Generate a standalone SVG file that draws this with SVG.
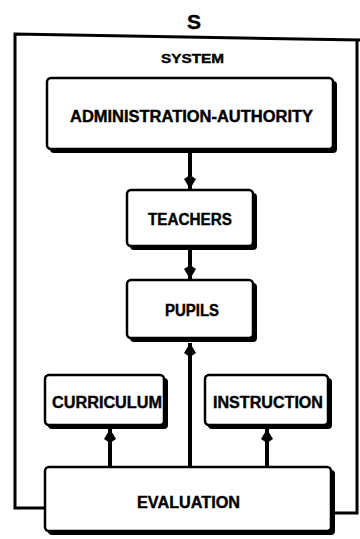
<svg xmlns="http://www.w3.org/2000/svg" width="360" height="539" viewBox="0 0 360 539">
<style>
.t{font-family:"Liberation Sans",Arial,sans-serif;font-weight:bold;font-size:16px;fill:#000;stroke:#000;stroke-width:0.4}
.box{fill:#fff;stroke:#000;stroke-width:2.5}
.sh{fill:#000}
.con{stroke:#000;stroke-width:4;fill:none}
</style>
<defs>
<marker id="ah" markerUnits="userSpaceOnUse" markerWidth="20" markerHeight="16" refX="0" refY="0" viewBox="-16 -8 20 16" orient="auto" overflow="visible">
<path d="M0,0 L-5,-3 L-10,-6 L-14,0 L-10,6 L-5,3 Z" fill="#000"/>
</marker>
</defs>
<rect width="360" height="539" fill="#fff"/>
<text class="t" x="194" y="29" style="font-size:21px" text-anchor="middle">S</text>
<g id="system">
<path d="M45,508 L15,508 L15,34 L360,40 M357,40 L357,513 L333,513" fill="none" stroke="#000" stroke-width="3"/>
<text class="t" x="161" y="63" style="font-size:13px" textLength="63" lengthAdjust="spacingAndGlyphs">SYSTEM</text>
</g>
<g id="connectors">
<line class="con" x1="190" y1="153" x2="190" y2="189" marker-end="url(#ah)"/>
<line class="con" x1="190" y1="250" x2="190" y2="279" marker-end="url(#ah)"/>
<line class="con" x1="190" y1="467" x2="190" y2="343" marker-end="url(#ah)"/>
<line class="con" x1="110" y1="467" x2="110" y2="429" marker-end="url(#ah)"/>
<line class="con" x1="267" y1="467" x2="267" y2="429" marker-end="url(#ah)"/>
</g>
<g id="admin">
<rect class="sh" x="50" y="81" width="287" height="72" rx="4"/>
<rect class="box" x="47" y="78" width="286" height="71" rx="4"/>
<text class="t" x="70" y="122" textLength="243" lengthAdjust="spacingAndGlyphs">ADMINISTRATION-AUTHORITY</text>
</g>
<g id="teachers">
<rect class="sh" x="130" y="193" width="127" height="57" rx="4"/>
<rect class="box" x="127" y="190" width="126" height="56" rx="4"/>
<text class="t" x="148" y="225" textLength="84" lengthAdjust="spacingAndGlyphs">TEACHERS</text>
</g>
<g id="pupils">
<rect class="sh" x="130" y="283" width="127" height="59" rx="4"/>
<rect class="box" x="127" y="280" width="126" height="58" rx="4"/>
<text class="t" x="165" y="316" textLength="54" lengthAdjust="spacingAndGlyphs">PUPILS</text>
</g>
<g id="curriculum">
<rect class="sh" x="48" y="378" width="120" height="51" rx="4"/>
<rect class="box" x="45" y="375" width="119" height="50" rx="4"/>
<text class="t" x="52" y="408" textLength="110" lengthAdjust="spacingAndGlyphs">CURRICULUM</text>
</g>
<g id="instruction">
<rect class="sh" x="208" y="378" width="124" height="51" rx="4"/>
<rect class="box" x="205" y="375" width="123" height="50" rx="4"/>
<text class="t" x="213" y="408" textLength="110" lengthAdjust="spacingAndGlyphs">INSTRUCTION</text>
</g>
<g id="evaluation">
<rect class="sh" x="48" y="470" width="287" height="65" rx="4"/>
<rect class="box" x="45" y="467" width="286" height="64" rx="4"/>
<text class="t" x="137" y="508" textLength="103" lengthAdjust="spacingAndGlyphs">EVALUATION</text>
</g>
</svg>
